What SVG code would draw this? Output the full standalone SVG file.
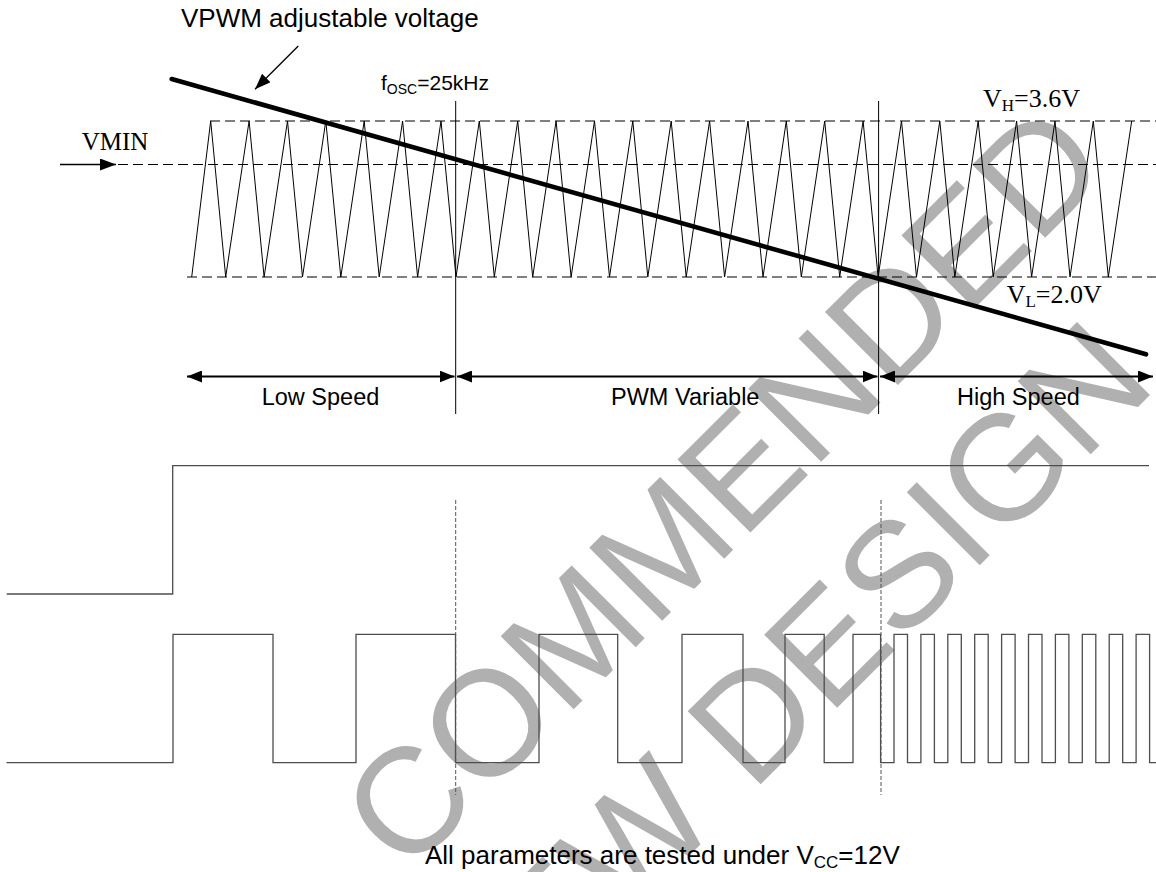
<svg xmlns="http://www.w3.org/2000/svg" width="1156" height="872" viewBox="0 0 1156 872">
<style>
.wm{font-family:"Liberation Sans",Arial,sans-serif;font-size:150px;fill:#b0b0b0}
.sans{font-family:"Liberation Sans",Arial,Helvetica,sans-serif;fill:#000}
.serif{font-family:"Liberation Serif","Times New Roman",serif;fill:#000}
.dash{stroke:#000;stroke-width:1.2;stroke-dasharray:10 5;fill:none}
.thin{stroke:#000;stroke-width:1;fill:none}
.sig{stroke:#4d4d4d;stroke-width:1.3;fill:none}
.vdash{stroke:#555;stroke-width:1;stroke-dasharray:4 2;fill:none}
.dim{stroke:#000;stroke-width:2;fill:none}
</style>
<defs>
<marker id="ah" viewBox="0 0 16 12" refX="16" refY="6" markerWidth="16" markerHeight="12" markerUnits="userSpaceOnUse" orient="auto-start-reverse">
<path d="M0,0 L16,6 L0,12 Z" fill="#000"/>
</marker>
<marker id="ah2" viewBox="0 0 15 12" refX="15" refY="6" markerWidth="15" markerHeight="12" markerUnits="userSpaceOnUse" orient="auto-start-reverse">
<path d="M0,0 L15,6 L0,12 Z" fill="#000"/>
</marker>
</defs>
<rect width="1156" height="872" fill="#fff"/>

<g id="watermark">
<text class="wm" transform="translate(406,877) rotate(-45)">COMMENDED</text>
<text class="wm" transform="translate(475,1070) rotate(-45)">NEW DESIGN</text>
</g>

<g id="levels">
<line class="dash" x1="210" y1="121" x2="1156" y2="121"/>
<line class="dash" x1="118" y1="164.5" x2="1156" y2="164.5"/>
<line class="dash" x1="187" y1="277" x2="1156" y2="277"/>
</g>

<g id="oscillator">
<path class="thin" d="M191.7,277 L210.7,121 L225.7,277 L249.1,121 L264.1,277 L287.5,121 L302.5,277 L325.8,121 L340.8,277 L364.2,121 L379.2,277 L402.6,121 L417.6,277 L441,121 L456,277 L479.3,121 L494.3,277 L517.7,121 L532.7,277 L556.1,121 L571.1,277 L594.5,121 L609.5,277 L632.8,121 L647.8,277 L671.2,121 L686.2,277 L709.6,121 L724.6,277 L748,121 L763,277 L786.3,121 L801.3,277 L824.7,121 L839.7,277 L863.1,121 L878.1,277 L901.5,121 L916.5,277 L939.8,121 L954.8,277 L978.2,121 L993.2,277 L1016.6,121 L1031.6,277 L1055,121 L1070,277 L1093.3,121 L1108.3,277 L1131.7,121"/>
</g>

<g id="boundaries">
<line class="thin" x1="455.7" y1="101" x2="455.7" y2="414"/>
<line class="thin" x1="878.6" y1="101" x2="878.6" y2="414"/>
</g>

<g id="vpwm">
<line x1="171.7" y1="79" x2="1146" y2="354.3" stroke="#000" stroke-width="4.6" stroke-linecap="round"/>
</g>

<g id="connectors">
<line x1="298.3" y1="46" x2="255" y2="89.3" stroke="#000" stroke-width="1.3" marker-end="url(#ah)"/>
<line x1="60" y1="164.5" x2="116" y2="164.5" stroke="#000" stroke-width="1.3" marker-end="url(#ah)"/>
<line class="dim" x1="187" y1="376.5" x2="454.5" y2="376.5" marker-start="url(#ah2)" marker-end="url(#ah2)"/>
<line class="dim" x1="457" y1="376.5" x2="877.5" y2="376.5" marker-start="url(#ah2)" marker-end="url(#ah2)"/>
<line class="dim" x1="880" y1="376.5" x2="1153" y2="376.5" marker-start="url(#ah2)" marker-end="url(#ah2)"/>
</g>

<g id="labels">
<text class="sans" x="181" y="27" font-size="26">VPWM adjustable voltage</text>
<text class="sans" x="381" y="90" font-size="21">f<tspan font-size="14" dy="4">OSC</tspan><tspan dy="-4">=25kHz</tspan></text>
<text class="serif" x="81.7" y="149.5" font-size="25">VMIN</text>
<text class="serif" x="983" y="106.7" font-size="26">V<tspan font-size="17" dy="4">H</tspan><tspan dy="-4">=3.6V</tspan></text>
<text class="serif" x="1006.7" y="302.7" font-size="26">V<tspan font-size="17" dy="4">L</tspan><tspan dy="-4">=2.0V</tspan></text>
<text class="sans" x="261.7" y="405" font-size="23.5">Low Speed</text>
<text class="sans" x="611" y="405" font-size="23.5">PWM Variable</text>
<text class="sans" x="957" y="405" font-size="23.5">High Speed</text>
<text class="sans" x="425" y="864" font-size="26">All parameters are tested under V<tspan font-size="17" dy="4">CC</tspan><tspan dy="-4">=12V</tspan></text>
</g>

<g id="signals">
<path class="sig" d="M6.7,594 H172.7 V465.7 H1149"/>
<path class="sig" d="M6.5,762.7 H173 V634.3 H273 V762.7 H356 V634.3 H455.5 V762.7 H539 V634.3 H617.7 V762.7 H682 V634.3 H743 V762.7 H785 V634.3 H824.2 V762.7 H853 V634.3 H880.6 V762.7 H894 V634.3 H907.5 V762.7 H920.9 V634.3 H934.4 V762.7 H947.8 V634.3 H961.3 V762.7 H974.7 V634.3 H988.2 V762.7 H1001.6 V634.3 H1015.1 V762.7 H1028.5 V634.3 H1042 V762.7 H1055.4 V634.3 H1068.9 V762.7 H1082.3 V634.3 H1095.8 V762.7 H1109.2 V634.3 H1122.7 V762.7 H1136.1 V634.3 H1149.6 V762.7 H1156"/>
<line class="vdash" x1="455.7" y1="500" x2="455.7" y2="795"/>
<line class="vdash" x1="881" y1="500" x2="881" y2="795"/>
</g>
</svg>
